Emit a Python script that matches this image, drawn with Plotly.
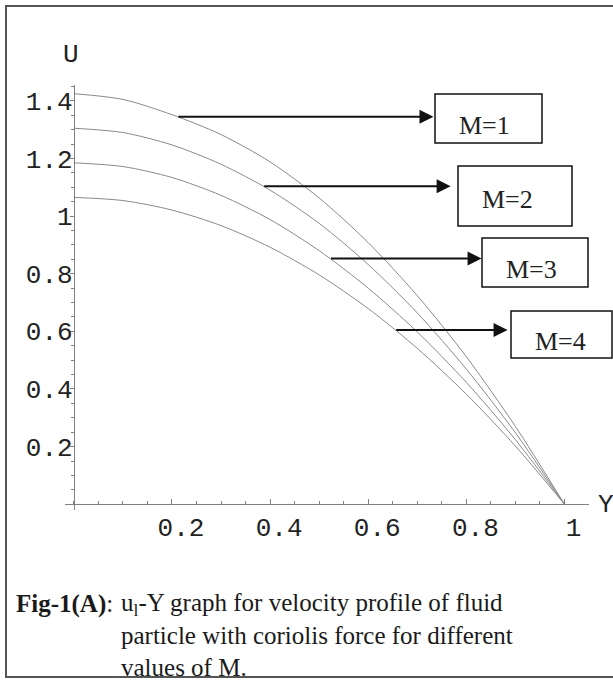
import numpy as np
import plotly.graph_objects as go

# ---------------- data ----------------
Y = [0.0, 0.1, 0.2, 0.3, 0.4, 0.5, 0.6, 0.7, 0.8, 0.9, 1.0]
U_M1 = [1.425, 1.405, 1.352, 1.283, 1.188, 1.063, 0.908, 0.724, 0.512, 0.270, 0.0]
U_M2 = [1.305, 1.290, 1.247, 1.180, 1.090, 0.975, 0.832, 0.664, 0.469, 0.248, 0.0]
U_M3 = [1.185, 1.172, 1.134, 1.072, 0.988, 0.880, 0.750, 0.598, 0.423, 0.224, 0.0]
U_M4 = [1.065, 1.054, 1.021, 0.967, 0.892, 0.796, 0.679, 0.541, 0.382, 0.202, 0.0]
series_names = ["M=1", "M=2", "M=3", "M=4"]

x_tickvals = [0.2, 0.4, 0.6, 0.8, 1.0]
x_ticktext = ["0.2", "0.4", "0.6", "0.8", "1"]
y_tickvals = [0.2, 0.4, 0.6, 0.8, 1.0, 1.2, 1.4]
y_ticktext = ["0.2", "0.4", "0.6", "0.8", "1", "1.2", "1.4"]

# ---------------- layout constants (page pixels) ----------------
W, H = 613, 680
PLOT_L, PLOT_R, PLOT_T, PLOT_B = 65, 589, 85, 510
ML, MR, MT, MB = PLOT_L, W - PLOT_R, PLOT_T, H - PLOT_B
XR = [-0.018, 1.05]
YR = [-0.02, 1.455]
PW = PLOT_R - PLOT_L
PH = PLOT_B - PLOT_T


def xp(px):
    return (px - PLOT_L) / PW


def yp(py):
    return (PLOT_B - py) / PH


# arrow tails (on the curves) and tips, in Y units
arrow_tail_Y = [0.21, 0.385, 0.521, 0.654]
arrow_tip_Y = [0.733, 0.768, 0.831, 0.884]
# label boxes (page pixels: x0, y0, x1, y1) and text centres
boxes_px = [(435, 94, 542, 143), (458, 166, 572, 226), (482, 238, 588, 287), (511, 311, 612, 358)]
box_text_px = [(484, 125), (507, 199), (531, 269), (560, 341)]

LINE_GRAY = "#8a8a8a"
AXIS_GRAY = "#808080"
MONO = "Liberation Mono, Courier New, monospace"
SERIF = "Liberation Serif, Times New Roman, serif"

fig = go.Figure()
all_series = [U_M1, U_M2, U_M3, U_M4]
for name, u in zip(series_names, all_series):
    fig.add_trace(go.Scatter(x=Y, y=u, mode="lines", name=name,
                             line=dict(color=LINE_GRAY, width=1, shape="spline", smoothing=0.8),
                             showlegend=False, hoverinfo="x+y"))

annotations = []
shapes = []
for u, t0, t1 in zip(all_series, arrow_tail_Y, arrow_tip_Y):
    yy = float(np.interp(t0, Y, u))
    annotations.append(dict(x=t1, y=yy, ax=t0, ay=yy, xref="x", yref="y", axref="x", ayref="y",
                            text="", showarrow=True, arrowhead=2, arrowsize=1.4, arrowwidth=2,
                            arrowcolor="#111111", standoff=0, startstandoff=0))

for name, (x0, y0, x1, y1), (tx, ty) in zip(series_names, boxes_px, box_text_px):
    shapes.append(dict(type="rect", xref="paper", yref="paper", x0=xp(x0), x1=xp(x1), y0=yp(y1), y1=yp(y0),
                       line=dict(color="#111111", width=1.5)))
    annotations.append(dict(x=xp(tx), y=yp(ty), xref="paper", yref="paper", text=name, showarrow=False,
                            xanchor="center", yanchor="middle", font=dict(family=SERIF, size=26, color="#222222")))

# axis titles
annotations.append(dict(x=xp(71), y=yp(55), xref="paper", yref="paper", text="U", showarrow=False,
                        xanchor="center", yanchor="middle", font=dict(family=MONO, size=26, color="#222222")))
annotations.append(dict(x=xp(596), y=yp(505), xref="paper", yref="paper", text="Y", showarrow=False,
                        xanchor="left", yanchor="middle", font=dict(family=MONO, size=26, color="#222222")))

# caption
annotations.append(dict(x=xp(14), y=yp(604), xref="paper", yref="paper", text="<b>Fig-1(A)</b>:", showarrow=False,
                        xanchor="left", yanchor="middle", font=dict(family=SERIF, size=25, color="#1a1a1a")))
annotations.append(dict(x=xp(119), y=yp(635), xref="paper", yref="paper",
                        text="u<sub>l</sub>-Y graph for velocity profile of fluid<br>particle with coriolis force for different<br>values of M.",
                        showarrow=False, xanchor="left", yanchor="middle", align="left",
                        font=dict(family=SERIF, size=25, color="#1a1a1a")))

# outer frame (left, top, bottom)
FL, FT, FB = 6, 6, 677
shapes.append(dict(type="path", xref="paper", yref="paper",
                   path=f"M {xp(W + 5)},{yp(FT)} L {xp(FL)},{yp(FT)} L {xp(FL)},{yp(FB)} L {xp(W + 5)},{yp(FB)}",
                   line=dict(color="#555555", width=2)))

fig.update_layout(
    width=W, height=H,
    margin=dict(l=ML, r=MR, t=MT, b=MB),
    paper_bgcolor="white", plot_bgcolor="white",
    showlegend=False,
    xaxis=dict(range=XR, showgrid=False, zeroline=False, showline=True, linecolor=AXIS_GRAY, linewidth=1,
               anchor="free", position=(0 - YR[0]) / (YR[1] - YR[0]),
               tickmode="array", tickvals=x_tickvals, ticktext=x_ticktext,
               ticks="inside", ticklen=5, tickcolor=AXIS_GRAY, tickwidth=1,
               minor=dict(tickmode="linear", tick0=0, dtick=0.05, ticks="inside", ticklen=3, tickcolor=AXIS_GRAY),
               tickfont=dict(family=MONO, size=26, color="#222222"), ticklabelshift=9, ticklabelstandoff=0),
    yaxis=dict(range=YR, showgrid=False, zeroline=False, showline=True, linecolor=AXIS_GRAY, linewidth=1,
               anchor="free", position=(0 - XR[0]) / (XR[1] - XR[0]),
               tickmode="array", tickvals=y_tickvals, ticktext=y_ticktext,
               ticks="outside", ticklen=4, tickcolor=AXIS_GRAY, tickwidth=1,
               minor=dict(tickmode="linear", tick0=0, dtick=0.05, ticks="outside", ticklen=3, tickcolor=AXIS_GRAY),
               tickfont=dict(family=MONO, size=26, color="#222222"), ticklabelstandoff=-8),
    annotations=annotations,
    shapes=shapes,
)

# remove the default 8px page margin so the 613x680 figure fills the window exactly
fig.write_html("out.html", config={"displayModeBar": False},
               post_script="document.body.style.margin='0';document.documentElement.style.overflow='hidden';")
